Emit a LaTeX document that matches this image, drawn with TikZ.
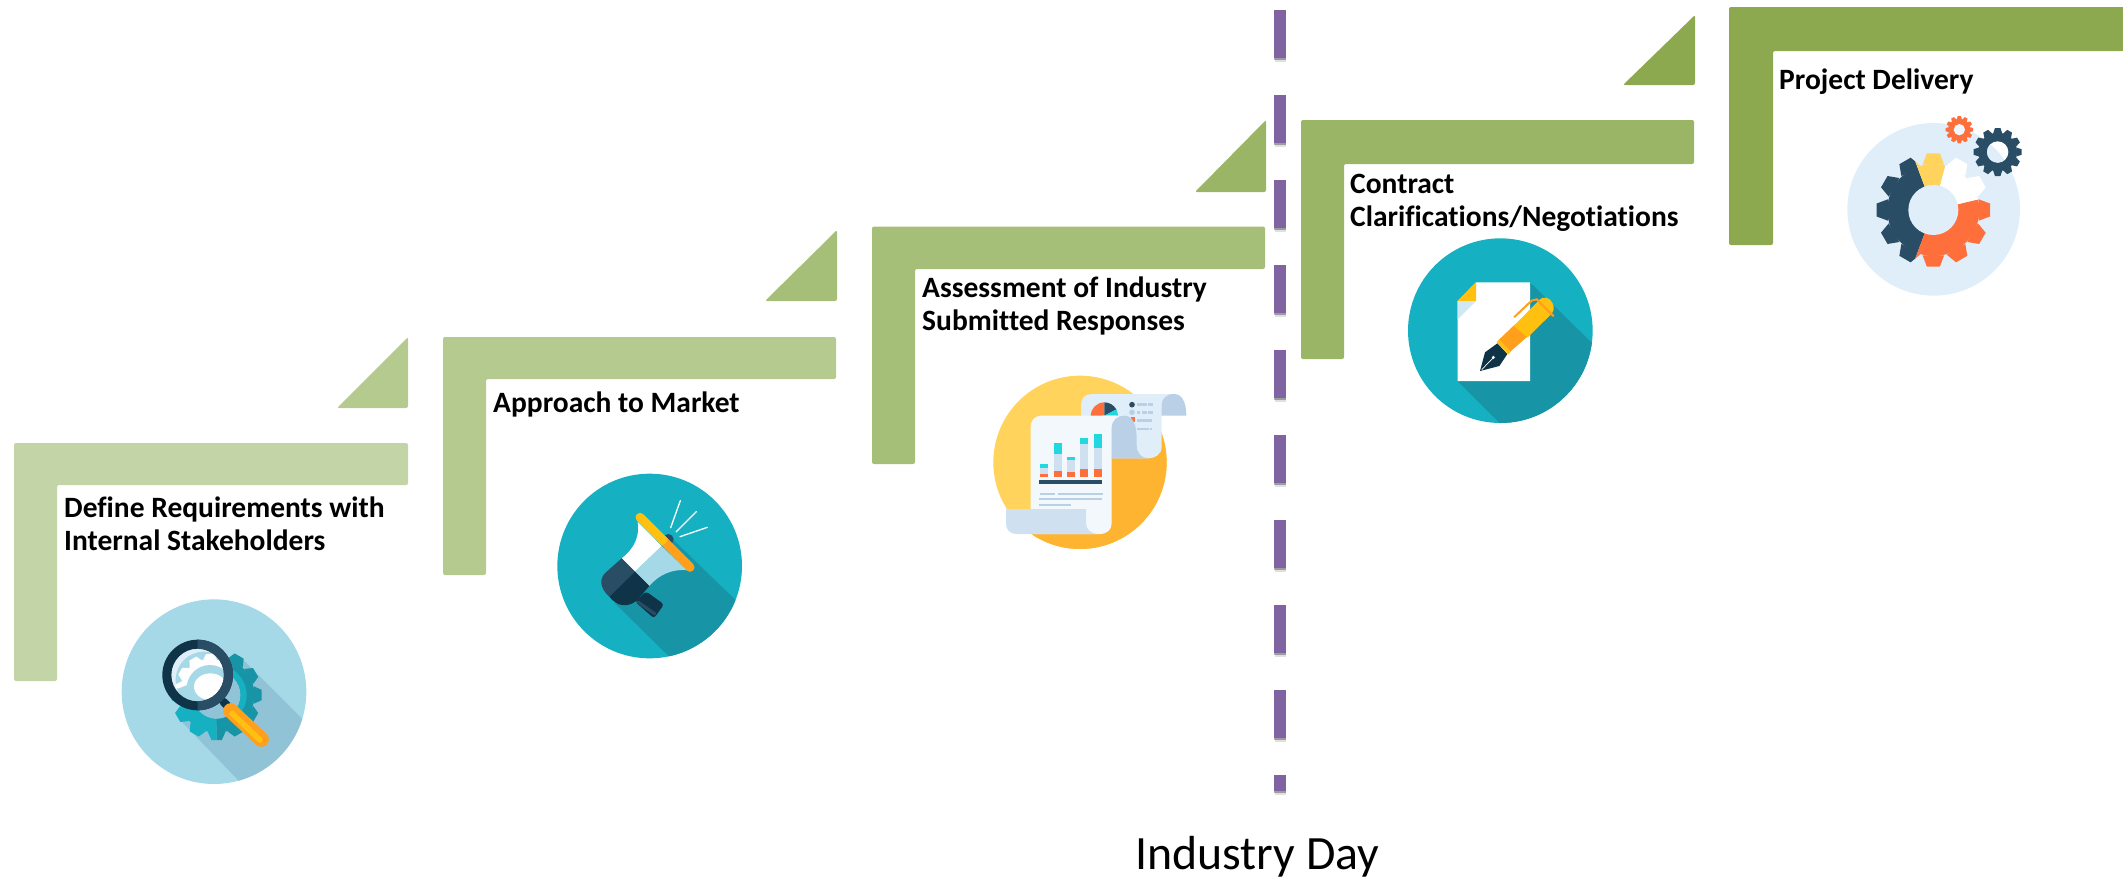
\documentclass[tikz,border=0pt]{standalone}
\usepackage{fontspec}
\setmainfont{Carlito}[Ligatures={NoRequired,NoCommon,NoContextual}]
\definecolor{gA}{HTML}{C3D4A6}
\definecolor{gB}{HTML}{B5CA8F}
\definecolor{gC}{HTML}{A6BF78}
\definecolor{gD}{HTML}{9BB567}
\definecolor{gE}{HTML}{8CA94F}
\definecolor{purp}{HTML}{8064A2}
\definecolor{teal}{HTML}{15B0C1}
\definecolor{tealD}{HTML}{1795A6}
\definecolor{skyb}{HTML}{A6D9E8}
\definecolor{skyD}{HTML}{90C3D6}
\definecolor{navy}{HTML}{2A4D66}
\definecolor{navyD}{HTML}{0F3347}
\definecolor{yell}{HTML}{FFC010}
\definecolor{oran}{HTML}{FF9F1C}
\definecolor{pale}{HTML}{E0EEF9}
\definecolor{paleb}{HTML}{CFE1F1}
\definecolor{steel}{HTML}{B9D0E6}
\definecolor{coral}{HTML}{FF6F3C}
\definecolor{sunL}{HTML}{FFD35C}
\definecolor{sunD}{HTML}{FFB431}
\definecolor{cyanb}{HTML}{22D8E0}
\tikzset{
  lbl/.style={anchor=base west,inner sep=0pt,font=\fontsize{29.5}{32.5}\selectfont\bfseries,align=left,text=black},
  dayl/.style={anchor=base west,inner sep=0pt,font=\fontsize{47.8}{56}\selectfont,text=black},
  stepl/.style={rounded corners=2pt}
}
% cx cy teeth rbody rout colour phase
\newcommand{\mygear}[7]{%
  \fill[#6] (#1,#2) circle (#4);
  \pgfmathsetmacro{\gst}{360/#3}
  \pgfmathsetmacro{\gwb}{#4*sin(\gst*0.45)}
  \pgfmathsetmacro{\gwt}{#5*sin(\gst*0.22)}
  \pgfmathsetmacro{\gro}{#4-2}
  \foreach \k in {1,...,#3} {
    \pgfmathsetmacro{\gang}{\k*\gst+#7}
    \fill[#6,shift={(#1,#2)},rotate=\gang] (\gro,-\gwb) -- (#5,-\gwt) -- (#5,\gwt) -- (\gro,\gwb) -- cycle;
  }%
}
\newcommand{\stepshape}[7]{% left top right barbottom vertright bottom colour
  \fill[#7,stepl] (#1,#2) -- (#3,#2) -- (#3,#4) -- (#5,#4) -- (#5,#6) -- (#1,#6) -- cycle;
}
\begin{document}
\begin{tikzpicture}[x=1pt,y=-1pt]
\useasboundingbox (0,0) rectangle (2123,879);
% dashed divider
\coordinate (dtop) at (1280,10);
\coordinate (dbot) at (1280,791);
\coordinate (stop) at (1280,12);
\coordinate (sbot) at (1280,793);
\coordinate (utop) at (1280,14);
\coordinate (ubot) at (1280,795);
\draw[black,opacity=.12,line width=11pt,dash pattern=on 48pt off 37pt] (utop) -- (ubot);
\draw[black,opacity=.3,line width=12pt,dash pattern=on 48pt off 37pt] (stop) -- (sbot);
\draw[purp,line width=12pt,dash pattern=on 48pt off 37pt] (dtop) -- (dbot);
% steps
\stepshape{14}{443}{408}{485}{57}{681}{gA}
\fill[gB,stepl] (337,408) -- (408,337) -- (408,408) -- cycle;
\stepshape{443}{337}{836}{379}{486}{575}{gB}
\fill[gC,stepl] (765,301) -- (837,230) -- (837,301) -- cycle;
\stepshape{872}{226.5}{1265}{269}{915}{464}{gC}
\fill[gD,stepl] (1195,192) -- (1266,120) -- (1266,192) -- cycle;
\stepshape{1301}{120}{1694}{164}{1344}{359}{gD}
\fill[gE,stepl] (1623,85) -- (1695,15) -- (1695,85) -- cycle;
\stepshape{1729}{7}{2130}{51}{1773}{245}{gE}
% texts
\node[lbl] (t1) at (64,550) {Define Requirements with\\Internal Stakeholders};
\node[lbl] (t2) at (493,412) {Approach to Market};
\node[lbl] (t3) at (922,330) {Assessment of Industry\\Submitted Responses};
\node[lbl] (t4) at (1350,226) {Contract\\Clarifications/Negotiations};
\node[lbl] (t5) at (1779,89) {Project Delivery};
\node[dayl] (t6) at (1135,869) {Industry Day};
% icon 1
\begin{scope}[shift={(100,580)},scale=1/3]
  \fill[skyb] (342,335) circle (277);
  \begin{scope}
    \clip (342,335) circle (277);
    \fill[skyD] (430,240) -- (720,530) -- (530,720) -- (245,425) -- cycle;
  \end{scope}
  \begin{scope}
    \clip (100,100) rectangle (350,600);
    \mygear{350}{345}{12}{113}{135}{teal}{0}
  \end{scope}
  \begin{scope}
    \clip (350,100) rectangle (600,600);
    \mygear{350}{345}{12}{113}{135}{tealD}{0}
  \end{scope}
  \fill[skyD] (350,345) circle (72);
  \fill[teal,even odd rule] (350,345) circle (90) (350,345) circle (72);
  \begin{scope}
    \clip (350,345) -- (520,500) -- (350,500) -- cycle;
    \fill[tealD,even odd rule] (350,345) circle (90) (350,345) circle (72);
  \end{scope}
  \draw[navyD,line width=8pt,line cap=round] (370,365) -- (385,380);
  \draw[oran,line width=15pt,line cap=round] (392,392) -- (484,478);
  \draw[yell,line width=5.5pt,line cap=round] (396,400) -- (480,480);
  \begin{scope}
    \clip (293,285) circle (79);
    \fill[pale] (200,190) rectangle (390,380);
    \fill[skyb] (312,300) circle (85);
    \begin{scope}
      \clip (200,200) -- (400,200) -- (400,300) -- (300,300) -- (235,325) -- (200,325) -- cycle;
      \mygear{330}{325}{12}{88}{103}{white}{0}
    \end{scope}
    \fill[skyb] (330,325) circle (70);
    \fill[white] (331,320) ellipse (49 and 40);
  \end{scope}
  \fill[navyD,even odd rule] (293,285) circle (106) (293,285) circle (79);
  \begin{scope}
    \clip (293,150) rectangle (420,420);
    \fill[navy,even odd rule] (293,285) circle (106) (293,285) circle (79);
  \end{scope}
\end{scope}
% icon 2
\begin{scope}[shift={(540,460)},scale=1/3]
  \fill[teal] (329,318) circle (277);
  \begin{scope}
    \clip (329,318) circle (277);
    \fill[tealD] (385,225) -- (700,530) -- (520,720) -- (225,430) -- cycle;
  \end{scope}
  \fill[navy] (385,238) circle (16);
  \fill[white] (293,185) .. controls (300,225) and (285,265) .. (245,295) -- (285,335) -- (365,258) -- cycle;
  \fill[skyb] (285,335) -- (365,258) -- (440,330) .. controls (400,328) and (360,340) .. (328,378) -- cycle;
  \fill[navy] (245,295) -- (285,335) -- (208,410) .. controls (180,385) and (175,355) .. (200,335) -- cycle;
  \fill[navyD] (285,335) -- (328,378) -- (290,422) .. controls (260,445) and (230,438) .. (208,410) -- cycle;
  \fill[navyD,rounded corners=3pt] (318,394) -- (372,433) -- (342,475) -- (285,425) -- cycle;
  \draw[navy,line width=3pt,line cap=round] (294,426) -- (345,462);
  \draw[oran,line width=9pt,line cap=round] (450,322) -- (375,247);
  \draw[yell,line width=9pt,line cap=round] (300,172) -- (368,240);
  \draw[yell,line width=9pt] (365,237) -- (375,247);
  \draw[white,line width=1.3pt,line cap=round] (392,203) -- (421,122);
  \draw[white,line width=1.3pt,line cap=round] (408,216) -- (469,155);
  \draw[white,line width=1.3pt,line cap=round] (420,230) -- (502,202);
\end{scope}
% icon 3
\begin{scope}[shift={(980,360)},scale=1/3]
  \fill[sunL] (300,307) circle (260);
  \begin{scope}
    \clip (300,307) circle (260);
    \fill[sunD] (520,90) -- (90,520) -- (600,700) -- (700,200) -- cycle;
  \end{scope}
  % back paper
  \fill[pale] (303,135) .. controls (303,115) and (315,102) .. (335,102) -- (585,102) -- (545,167) -- (545,260) .. controls (545,283) and (525,295) .. (505,295) -- (303,295) -- cycle;
  \fill[steel] (545,167) -- (545,135) .. controls (545,115) and (560,102) .. (582,102) .. controls (605,102) and (619,125) .. (619,167) -- cycle;
  \fill[coral] (373,167) -- (373,127) arc[start angle=-90,end angle=-180,radius=41] -- cycle;
  \fill[navy] (373,167) -- (373,127) arc[start angle=-90,end angle=-28,radius=41] -- cycle;
  \fill[cyanb] (373,167) -- (409,148) arc[start angle=-28,end angle=0,radius=41] -- cycle;
  \fill[coral] (452,172) rectangle (466,186);
  \fill[navy] (456,134) circle (8.5);
  \fill[steel] (456,157) circle (8.5);
  \fill[steel] (471,129) rectangle (501,137);
  \fill[steel] (504,129) rectangle (519,137);
  \fill[steel] (471,153) rectangle (480,161);
  \fill[steel] (487,153) rectangle (501,161);
  \fill[steel] (504,153) rectangle (519,161);
  \fill[steel] (471,177) rectangle (516,185);
  \fill[steel] (471,204) rectangle (507,210);
  \fill[steel] (510,204) rectangle (516,210);
  % front paper
  \fill[pale!40!white] (152,200) .. controls (152,180) and (165,167) .. (185,167) -- (430,167) -- (395,200) -- (395,490) .. controls (395,510) and (380,522) .. (358,522) -- (152,522) -- cycle;
  \fill[steel] (395,240) -- (395,205) .. controls (395,180) and (412,167) .. (432,167) .. controls (455,167) and (470,185) .. (470,240) -- (470,255) .. controls (470,280) and (485,295) .. (505,295) -- (395,295) -- cycle;
  \fill[paleb] (78,447) -- (318,447) -- (318,490) .. controls (318,510) and (335,522) .. (358,522) -- (110,522) .. controls (90,522) and (78,510) .. (78,490) -- cycle;
  % bars
  \fill[coral] (180,342) rectangle (204,351);
  \fill[paleb] (180,324) rectangle (204,342);
  \fill[cyanb] (180,312) rectangle (204,324);
  \fill[coral] (222,333) rectangle (246,351);
  \fill[paleb] (222,282) rectangle (246,333);
  \fill[cyanb] (222,249) rectangle (246,282);
  \fill[coral] (261,336) rectangle (285,351);
  \fill[paleb] (261,300) rectangle (285,336);
  \fill[cyanb] (261,291) rectangle (285,300);
  \fill[coral] (300,327) rectangle (324,351);
  \fill[paleb] (300,252) rectangle (324,327);
  \fill[cyanb] (300,234) rectangle (324,252);
  \fill[coral] (342,327) rectangle (366,351);
  \fill[paleb] (342,264) rectangle (366,327);
  \fill[cyanb] (342,222) rectangle (366,264);
  \fill[navy] (177,360) rectangle (366,372);
  \fill[steel] (180,399) rectangle (225,405);
  \fill[steel] (234,399) rectangle (369,405);
  \fill[steel] (177,414) rectangle (366,420);
  \fill[steel] (177,432) rectangle (273,438);
\end{scope}
% icon 4
\begin{scope}[shift={(1390,220)},scale=1/3]
  \fill[teal] (331,332) circle (277);
  \begin{scope}
    \clip (331,332) circle (277);
    \fill[tealD] (420,187) -- (740,500) -- (500,780) -- (203,483) -- cycle;
  \end{scope}
  \fill[white] (258,187) -- (420,187) -- (420,483) -- (203,483) -- (203,243) -- cycle;
  \fill[yell] (203,243) -- (258,243) -- (258,187) -- cycle;
  \fill[pale!70!skyb] (203,243) -- (258,243) -- (203,298) -- cycle;
  % pen
  \fill[navyD] (270,453) -- (285,397) -- (322,370) -- (352,402) -- (328,438) -- cycle;
  \draw[white,line width=.7pt] (275,449) -- (310,413);
  \fill[white] (310,412) circle (5);
  \fill[yell] (320,366) -- (330,356) -- (364,392) -- (355,404) -- cycle;
  \fill[oran] (328,358) -- (376,312) -- (412,350) -- (362,394) -- cycle;
  \fill[yell] (371,318) -- (445,243) .. controls (460,225) and (480,232) .. (488,250) .. controls (495,265) and (490,275) .. (483,283) -- (413,352) -- cycle;
  \draw[oran,line width=2pt,line cap=round] (373,291) -- (425,242) -- (440,238) -- (490,288);
\end{scope}
% icon 5
\begin{scope}[shift={(1830,100)},scale=1/3]
  \fill[pale] (311,328) circle (259);
  \begin{scope}
    \clip (310,330) -- (90,-260) -- (-400,-100) -- (-300,800) -- (90,920) -- cycle;
    \mygear{310}{330}{12}{138}{170}{navy}{0}
  \end{scope}
  \begin{scope}
    \clip (310,330) -- (90,920) -- (800,1000) -- (900,190) -- cycle;
    \mygear{310}{330}{12}{138}{170}{coral}{0}
  \end{scope}
  \begin{scope}
    \clip (310,330) -- (900,190) -- (900,-300) -- (465,-250) -- cycle;
    \mygear{310}{330}{12}{138}{170}{white}{0}
  \end{scope}
  \begin{scope}
    \clip (310,330) -- (465,-250) -- (90,-260) -- cycle;
    \mygear{310}{330}{12}{138}{170}{sunL}{0}
  \end{scope}
  \fill[pale] (310,330) circle (75);
  \mygear{388}{89}{12}{33}{41}{coral}{0}
  \fill[pale!50!white] (388,89) circle (17);
  \mygear{503}{156}{12}{58}{72}{navy}{0}
  \begin{scope}
    \clip (503,156) circle (32);
    \fill[white] (460,110) rectangle (550,200);
    \fill[pale] (311,328) circle (259);
  \end{scope}
\end{scope}
\end{tikzpicture}
\end{document}
